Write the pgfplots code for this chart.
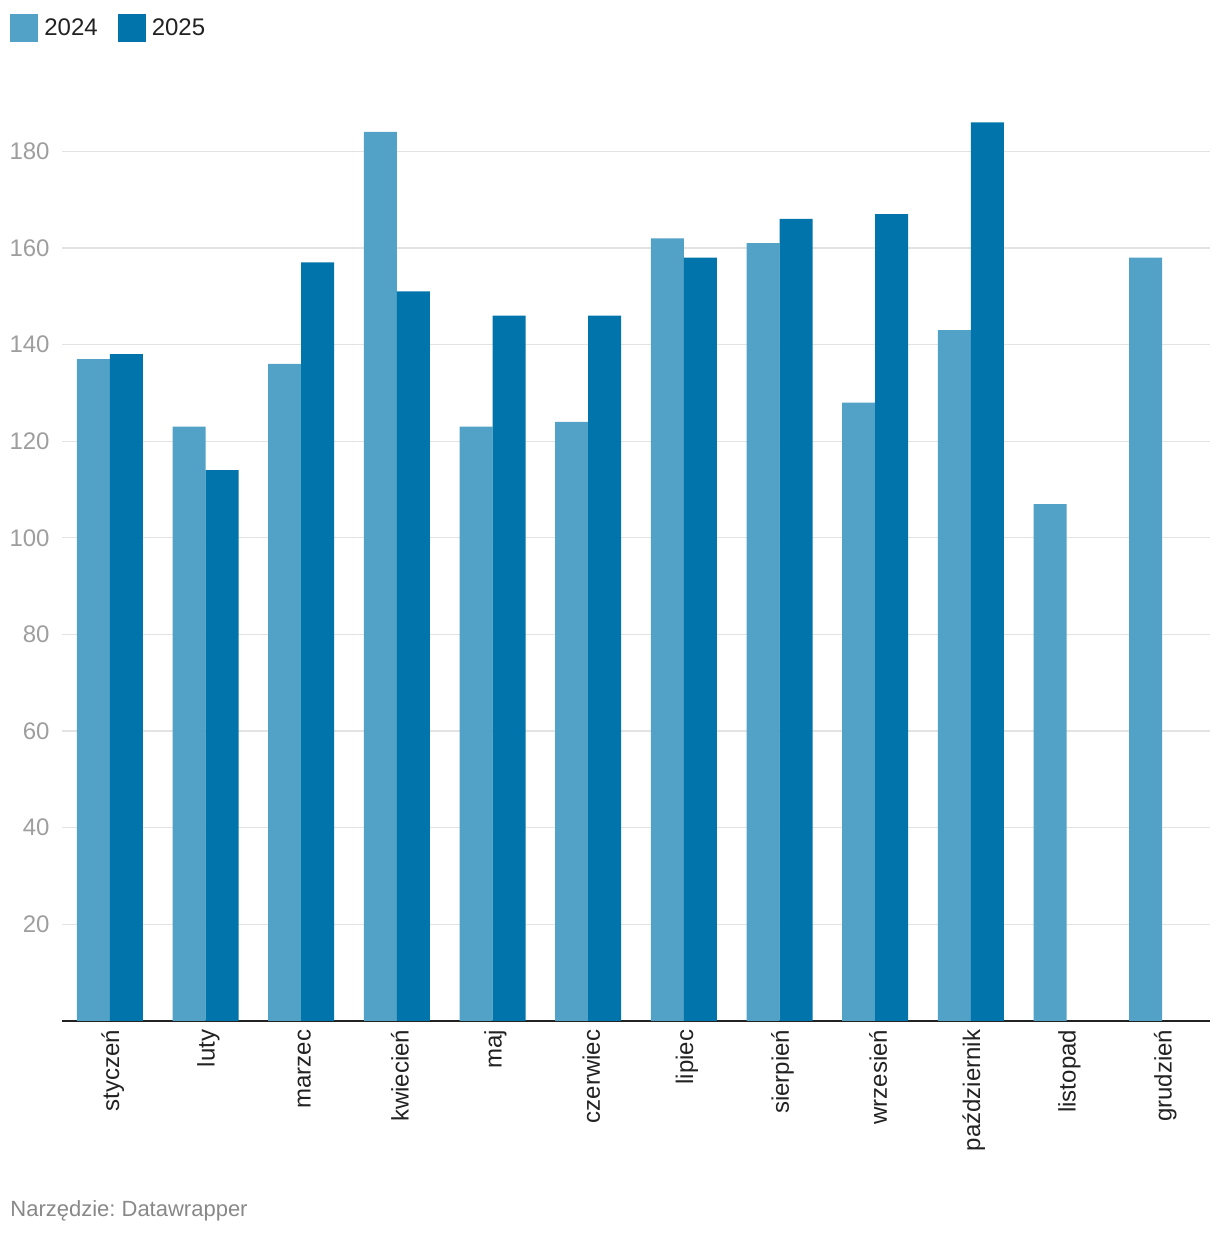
\documentclass[border=0pt]{standalone}
\usepackage{pgfplots}
\pgfplotsset{compat=1.18}
\usepackage{fontspec}
\setmainfont{Liberation Sans}
\frenchspacing
\definecolor{c2024}{HTML}{52A1C7}
\definecolor{c2025}{HTML}{0174AB}
\definecolor{gridgray}{HTML}{E3E3E3}
\definecolor{tickgray}{HTML}{9E9E9E}
\definecolor{labeldark}{HTML}{222222}
\definecolor{footgray}{HTML}{888888}

\begin{document}
\begin{tikzpicture}
\path[use as bounding box] (0,0) rectangle (610pt,618pt);
\begin{axis}[
    at={(31pt,107.5pt)}, anchor=south west,
    scale only axis,
    width=574pt, height=459pt,
    xmin=-0.5, xmax=11.5,
    ymin=0, ymax=190,
    ybar=0pt, bar width=16.5pt,
    axis y line*=left,
    y axis line style={draw=none},
    axis x line*=bottom,
    x axis line style={line width=1pt, color=labeldark, -},
    xtick={0,...,11},
    xticklabels={styczeń,luty,marzec,kwiecień,maj,czerwiec,lipiec,sierpień,wrzesień,październik,listopad,grudzień},
    xtick style={draw=none},
    % shifts act in the rotated frame: yshift<0 moves the label right
    xticklabel style={rotate=90, anchor=east, font=\fontsize{12}{14}\selectfont, text=labeldark, inner sep=0pt, yshift=-1.5pt},
    ytick={20,40,...,180},
    ytick style={draw=none},
    yticklabel style={anchor=east, font=\fontsize{12}{14}\selectfont, text=tickgray, inner sep=0pt, xshift=-6pt},
    /pgf/number format/assume math mode=true,
    ymajorgrids,
    major grid style={color=gridgray, line width=0.6pt},
    legend style={at={(-0.0453,1.097)}, anchor=north west, draw=none, inner sep=0pt,
        font=\fontsize{12}{14}\selectfont, text=labeldark,
        legend columns=2, column sep=8pt,
        /tikz/every odd column/.style={column sep=1pt}},
    legend image code/.code={\fill[#1] (0pt,-7pt) rectangle (14pt,7pt);},
]
\addplot[fill=c2024, draw=none] coordinates {
    (0,137) (1,123) (2,136) (3,184) (4,123) (5,124)
    (6,162) (7,161) (8,128) (9,143) (10,107) (11,158)
};
\addlegendentry{2024}
\addplot[fill=c2025, draw=none] coordinates {
    (0,138) (1,114) (2,157) (3,151) (4,146) (5,146)
    (6,158) (7,166) (8,167) (9,186)
};
\addlegendentry{2025}
\end{axis}
\node[anchor=west, text=footgray, font=\fontsize{11}{13}\selectfont, inner sep=0pt] at (5pt,12.5pt) {Narzędzie: Datawrapper};
\end{tikzpicture}
\end{document}
